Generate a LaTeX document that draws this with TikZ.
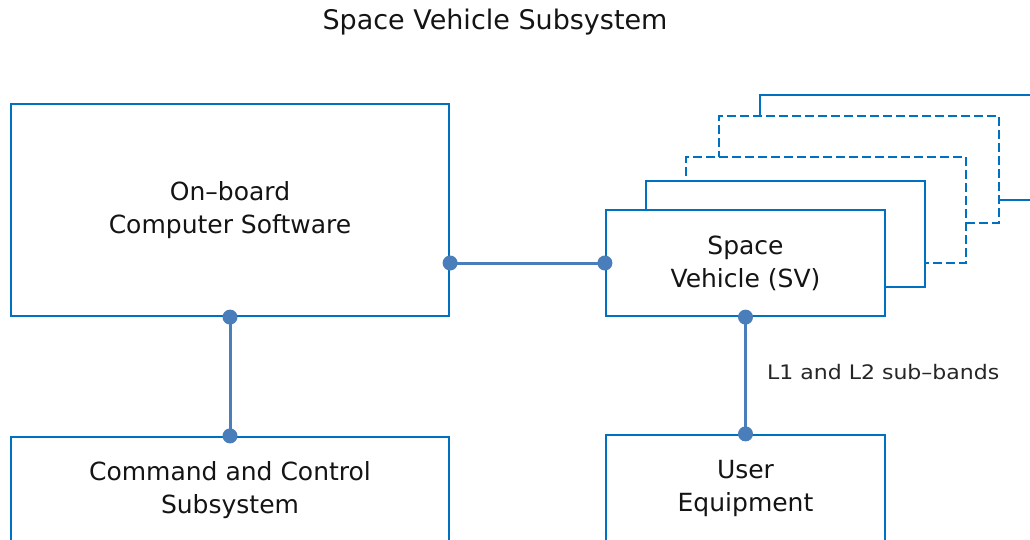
\documentclass[tikz,border=0pt]{standalone}
\usepackage{fontspec}
\setmainfont{DejaVu Sans}
\newfontfamily\labelfont[FakeStretch=1.1]{DejaVu Sans}
\definecolor{boxblue}{HTML}{0070C0}
\definecolor{linkblue}{HTML}{4A7EBB}
\begin{document}
\begin{tikzpicture}[x=1pt,y=-1pt,
  box/.style={draw=boxblue, line width=2.2pt, fill=white, inner sep=0pt, align=center,
              font=\fontsize{25}{32}\selectfont, text=black!92},
  dashbox/.style={box, dash pattern=on 9pt off 4pt},
  link/.style={draw=linkblue, line width=3pt},
  dot/.style={circle, fill=linkblue, inner sep=0pt, minimum size=15pt}]
\useasboundingbox (0,0) rectangle (1030,540);
\clip (0,0) rectangle (1030,540);

\node[font=\fontsize{27}{32}\selectfont, text=black!92] (title) at (495,22) {Space Vehicle Subsystem};

% stacked space vehicles (back to front)
\node[box, minimum width=300, minimum height=105] (sv5) at (910,147.5) {};
\node[dashbox, minimum width=280, minimum height=107] (sv4) at (859,169.5) {};
\node[dashbox, minimum width=280, minimum height=106] (sv3) at (826,210) {};
\node[box, minimum width=279, minimum height=106] (sv2) at (785.5,234) {};
\node[box, minimum width=279, minimum height=106] (sv) at (745.5,263) {Space\\[1pt]Vehicle (SV)};

\node[box, minimum width=438, minimum height=212] (obc) at (230,210) {On–board\\[1pt]Computer Software};
\node[box, minimum width=438, minimum height=106] (cc) at (230,490) {Command and Control\\[1pt]Subsystem};
\node[box, minimum width=279, minimum height=106] (ue) at (745.5,488) {User\\[1pt]Equipment};

\coordinate (obcR) at (sv.west -| obc.east);
\draw[link] (obcR) -- (sv.west);
\draw[link] (obc.south) -- (cc.north);
\draw[link] (sv.south) -- (ue.north);

\node[dot] (d1) at (obcR) {};
\node[dot] (d2) at (sv.west) {};
\node[dot] (d3) at (obc.south) {};
\node[dot] (d4) at (cc.north) {};
\node[dot] (d5) at (sv.south) {};
\node[dot] (d6) at (ue.north) {};

\node[anchor=west, font=\labelfont\fontsize{20}{24}\selectfont, text=black!85, inner sep=0pt] (lbl) at (767,372) {L1 and L2 sub–bands};
\end{tikzpicture}
\end{document}
